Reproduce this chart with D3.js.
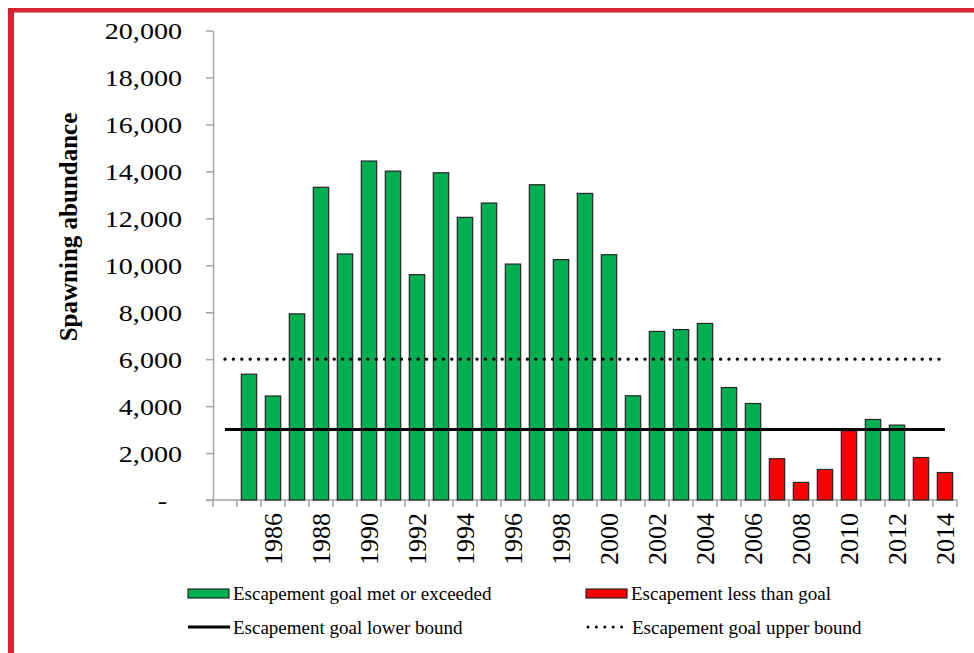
<!DOCTYPE html>
<html>
<head>
<meta charset="utf-8">
<script src="https://cdn.jsdelivr.net/npm/d3@7"></script>
<style>
  body { margin: 0; background: #fff; }
  svg { display: block; }
  text { font-family: "Liberation Serif", "Times New Roman", serif; fill: #000; }
</style>
</head>
<body>
<div id="chart"></div>
<script>
// data (1984 has no count)
var years = d3.range(1984, 2015)
var abundance = [null, 5360, 4430, 7930, 13320, 10480, 14440, 14010, 9600, 13940,
  12040, 12650, 10050, 13430, 10240, 13060, 10450, 4440, 7180, 7260,
  7520, 4790, 4110, 1760, 750, 1300, 2950, 3430, 3190, 1810, 1170]
var lowerBound = 3000
var upperBound = 6000
var yTicks = d3.range(0, 20001, 2000)
var xLabelYears = d3.range(1986, 2015, 2)
var legendLabels = ['Escapement goal met or exceeded', 'Escapement less than goal',
  'Escapement goal lower bound', 'Escapement goal upper bound']

var W = 974, H = 653
var green = '#00b050', red = '#ff0000', barStroke = '#262626', axisGrey = '#a6a6a6'

var svg = d3.select('#chart').append('svg')
  .attr('width', W).attr('height', H)

svg.append('rect').attr('width', W).attr('height', H).attr('fill', '#fff')

// red frame, left and top
svg.append('rect').attr('x', 8).attr('y', 8).attr('width', 6).attr('height', H - 8).attr('fill', '#d42530')
svg.append('rect').attr('x', 8).attr('y', 8).attr('width', W - 8).attr('height', 4.5).attr('fill', '#d42530')

var y = d3.scaleLinear().domain([0, 20000]).range([500, 30.5])
var x = d3.scaleBand().domain(years).range([213, 957]).paddingInner(0.36).paddingOuter(0.18)
var gap = (x.step() - x.bandwidth()) / 2

// y axis
var yAxis = svg.append('g')
  .attr('transform', 'translate(213,0)')
  .call(d3.axisLeft(y).tickValues(yTicks).tickSize(7).tickSizeOuter(0).tickPadding(24)
    .tickFormat(function(d) { return d === 0 ? '-' : d3.format(',')(d) }))
yAxis.select('.domain').attr('stroke', axisGrey).attr('stroke-width', 1.5)
yAxis.selectAll('.tick line').attr('stroke', axisGrey).attr('stroke-width', 1.5)
yAxis.selectAll('.tick text')
  .attr('font-size', 24).attr('font-family', '"Liberation Serif", serif')
  .attr('dy', '0.34em')
  .each(function(d) {
    if (d === 0) d3.select(this).attr('x', -46)
    // the original labels look wider than plain Times
    var len = this.getComputedTextLength()
    d3.select(this).attr('textLength', len * 1.17).attr('lengthAdjust', 'spacingAndGlyphs')
  })

// x axis line + boundary ticks
var xAxis = svg.append('g')
xAxis.append('line')
  .attr('x1', 206).attr('x2', x.range()[1])
  .attr('y1', y(0)).attr('y2', y(0))
  .attr('stroke', axisGrey).attr('stroke-width', 1.5)
var bounds = years.map(function(d) { return x(d) - gap }).concat([x(years[years.length - 1]) + x.bandwidth() + gap])
xAxis.selectAll('line.tk').data(bounds).enter().append('line')
  .attr('class', 'tk')
  .attr('x1', function(d) { return d }).attr('x2', function(d) { return d })
  .attr('y1', y(0)).attr('y2', y(0) + 7)
  .attr('stroke', axisGrey).attr('stroke-width', 1.5)
xAxis.selectAll('text').data(xLabelYears).enter().append('text')
  .attr('transform', function(d) { return 'translate(' + (x(d) + x.bandwidth() / 2) + ',513) rotate(-90)' })
  .attr('text-anchor', 'end')
  .attr('dy', '0.36em')
  .attr('font-size', 26)
  .text(function(d) { return d })

// y title
svg.append('text')
  .attr('transform', 'translate(77,227) rotate(-90)')
  .attr('text-anchor', 'middle')
  .attr('font-size', 25).attr('font-weight', 'bold')
  .text('Spawning abundance')

// bars
var barData = years.map(function(d, i) { return {year: d, value: abundance[i]} })
  .filter(function(d) { return d.value != null })
svg.append('g').selectAll('rect').data(barData).enter().append('rect')
  .attr('x', function(d) { return x(d.year) })
  .attr('y', function(d) { return y(d.value) })
  .attr('width', x.bandwidth())
  .attr('height', function(d) { return y(0) - y(d.value) })
  .attr('fill', function(d) { return d.value >= lowerBound ? green : red })
  .attr('stroke', barStroke).attr('stroke-width', 1.2)

// goal lines, from first to last category centre
var xStart = x(years[0]) + x.bandwidth() / 2
var xEnd = x(years[years.length - 1]) + x.bandwidth() / 2
svg.append('line')
  .attr('x1', xStart).attr('x2', xEnd)
  .attr('y1', y(lowerBound)).attr('y2', y(lowerBound))
  .attr('stroke', '#000').attr('stroke-width', 3)
svg.append('line')
  .attr('x1', xStart).attr('x2', xEnd - 2)
  .attr('y1', y(upperBound)).attr('y2', y(upperBound))
  .attr('stroke', '#000').attr('stroke-width', 3.4)
  .attr('stroke-dasharray', '0 8.4').attr('stroke-linecap', 'round')

// legend
var leg = svg.append('g').attr('font-size', 19)
leg.append('rect').attr('x', 188).attr('y', 589).attr('width', 41).attr('height', 9)
  .attr('fill', green).attr('stroke', barStroke).attr('stroke-width', 1.2)
leg.append('text').attr('x', 233).attr('y', 593).attr('dy', '0.35em').text(legendLabels[0])
leg.append('rect').attr('x', 586).attr('y', 589).attr('width', 41).attr('height', 9)
  .attr('fill', red).attr('stroke', barStroke).attr('stroke-width', 1.2)
leg.append('text').attr('x', 631).attr('y', 593).attr('dy', '0.35em').text(legendLabels[1])
leg.append('line').attr('x1', 188).attr('x2', 230).attr('y1', 627).attr('y2', 627)
  .attr('stroke', '#000').attr('stroke-width', 3)
leg.append('text').attr('x', 233).attr('y', 627).attr('dy', '0.35em').text(legendLabels[2])
leg.append('line').attr('x1', 588).attr('x2', 626).attr('y1', 627).attr('y2', 627)
  .attr('stroke', '#000').attr('stroke-width', 3)
  .attr('stroke-dasharray', '0 8.4').attr('stroke-linecap', 'round')
leg.append('text').attr('x', 632).attr('y', 627).attr('dy', '0.35em').text(legendLabels[3])
</script>
</body>
</html>
